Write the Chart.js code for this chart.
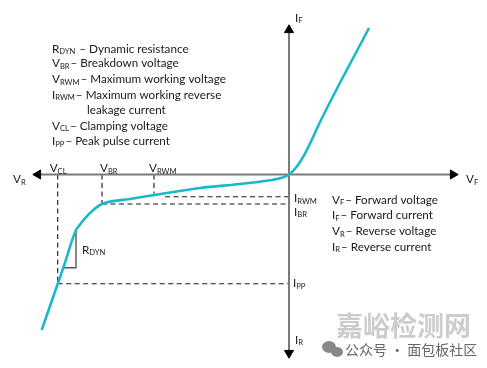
<!DOCTYPE html>
<html><head><meta charset="utf-8">
<script src="https://cdn.jsdelivr.net/npm/chart.js@4"></script>
<style>html,body{margin:0;padding:0;background:#fff}#wrap{width:487px;height:368px;position:relative}</style>
</head><body><div id="wrap"><canvas id="c"></canvas></div>
<script>
// TVS diode I-V characteristic, arbitrary units (origin = axis crossing)
const curveV = [-24.73, -22.57, -21.3, -21.07, -20.4, -19.57, -18.7, -15.9, -13.5, -8.9, -4.9, -2.4, -0.9, 0, 0.77, 1.43, 2.27, 3.2, 8.0];
const curveI = [-15.55, -9.32, -5.55, -5.22, -4.38, -3.55, -2.95, -2.45, -2.05, -1.35, -0.95, -0.65, -0.38, 0, 0.78, 1.78, 3.45, 5.45, 14.65];
// characteristic points
const V_CL = -23.13, V_BR = -18.7, V_RWM = -13.5;
const I_PP = -10.92, I_BR = -2.95, I_RWM = -2.22;
const I_RWM_START = -12.4, V_RWM_END = -1.9;
// dynamic resistance triangle
const rdynV = [-21.3, -21.3, -22.57];
const rdynI = [-5.55, -9.32, -9.32];
// axis extents
const axisV = [-25.1, 16.4];
const axisI = [14.45, -17.85];
// axis range
const X_MIN = -28.9, X_MAX = 19.8, Y_MIN = -19.35, Y_MAX = 17.45;

const leftNotes = [["R","DYN"," – Dynamic resistance"],["V","BR","– Breakdown voltage"],["V","RWM","– Maximum working voltage"],["I","RWM","– Maximum working reverse"],["","","leakage current"],["V","CL","– Clamping voltage"],["I","PP","– Peak pulse current"]];
const rightNotes = [["V","F","– Forward voltage"],["I","F","– Forward current"],["V","R","– Reverse voltage"],["I","R","– Reverse current"]];

const pts = (xs, ys) => xs.map((x, i) => ({x, y: ys[i]}));
const TEAL = '#1bb8c9';
const dash = (data) => ({data, showLine: true, borderColor: '#1a1a1a', borderWidth: 1.1, borderDash: [5, 3.5], pointRadius: 0, clip: false});

const datasets = [
  {data: pts(curveV, curveI), showLine: true, borderColor: TEAL, borderWidth: 2.6, pointRadius: 0, cubicInterpolationMode: 'monotone', clip: false},
  {data: [{x: axisV[0], y: 0}, {x: axisV[1], y: 0}], showLine: true, borderColor: '#7a7a7a', borderWidth: 2, pointStyle: 'triangle', pointRadius: 5.2, pointRotation: [-90, 90], pointBackgroundColor: '#000', pointBorderColor: '#000', pointBorderWidth: 1, clip: false},
  {data: [{x: 0, y: axisI[0]}, {x: 0, y: axisI[1]}], showLine: true, borderColor: '#7a7a7a', borderWidth: 2, pointStyle: 'triangle', pointRadius: 5.2, pointRotation: [0, 180], pointBackgroundColor: '#000', pointBorderColor: '#000', pointBorderWidth: 1, clip: false},
  dash([{x: V_CL, y: 0}, {x: V_CL, y: I_PP}]),
  dash([{x: V_CL, y: I_PP}, {x: 0, y: I_PP}]),
  dash([{x: V_BR, y: 0}, {x: V_BR, y: I_BR}]),
  dash([{x: V_BR, y: I_BR}, {x: 0, y: I_BR}]),
  dash([{x: V_RWM, y: 0}, {x: V_RWM, y: V_RWM_END}]),
  dash([{x: I_RWM_START, y: I_RWM}, {x: 0, y: I_RWM}]),
  {data: pts(rdynV, rdynI), showLine: true, borderColor: '#555', borderWidth: 1.4, pointRadius: 0, clip: false}
];

const FONT = 'Lato, "Open Sans", sans-serif';
const MAIN = 11.7, SUB = 7.6;
function sub(ctx, x, y, a, s, rest) {
  ctx.font = MAIN + 'px ' + FONT;
  ctx.fillText(a, x, y);
  x += ctx.measureText(a).width;
  if (s) {
    ctx.font = SUB + 'px ' + FONT;
    ctx.fillText(s, x, y + 3);
    x += ctx.measureText(s).width + 1;
  }
  if (rest) {
    ctx.font = MAIN + 'px ' + FONT;
    ctx.fillText(rest, x, y);
  }
}

const labels = {
  id: 'labels',
  afterDraw(chart) {
    const ctx = chart.ctx, sx = chart.scales.x, sy = chart.scales.y;
    const X = v => sx.getPixelForValue(v), Y = v => sy.getPixelForValue(v);
    ctx.save();
    ctx.fillStyle = '#1a1a1a';
    ctx.textBaseline = 'middle';
    ctx.textAlign = 'left';
    const ys = [49, 63.5, 79.5, 95, 110.5, 126, 141.5];
    leftNotes.forEach((n, i) => sub(ctx, n[0] ? 52 : 87, ys[i], n[0], n[1], n[2]));
    rightNotes.forEach((n, i) => sub(ctx, 332, 200 + i * 15.6, n[0], n[1], n[2]));
    // axis labels
    sub(ctx, 13, Y(0) + 5, 'V', 'R', '');
    sub(ctx, 466, Y(0) + 5, 'V', 'F', '');
    sub(ctx, X(0) + 6, 18, 'I', 'F', '');
    sub(ctx, X(0) + 6, 340, 'I', 'R', '');
    // voltage markers
    sub(ctx, X(V_CL) - 8, Y(0) - 6, 'V', 'CL', '');
    sub(ctx, X(V_BR) - 2, Y(0) - 6, 'V', 'BR', '');
    sub(ctx, X(V_RWM) - 5, Y(0) - 6, 'V', 'RWM', '');
    // current markers
    sub(ctx, X(0) + 5, Y(I_RWM) + 2, 'I', 'RWM', '');
    sub(ctx, X(0) + 5, Y(I_BR) + 8, 'I', 'BR', '');
    sub(ctx, X(0) + 4, Y(I_PP), 'I', 'PP', '');
    sub(ctx, X(rdynV[0]) + 6, 250, 'R', 'DYN', '');
    // watermark
    ctx.fillStyle = 'rgba(195,195,195,0.85)';
    ctx.font = 'bold 27px "Noto Sans CJK SC"';
    ctx.fillText('嘉峪检测网', 336, 326);
    ctx.fillStyle = '#666';
    ctx.font = '14px "Noto Sans CJK SC"';
    ctx.fillText('公众号 · 面包板社区', 345, 350);
    ctx.fillStyle = '#888';
    ctx.beginPath(); ctx.ellipse(329, 347, 7, 6, 0, 0, Math.PI * 2); ctx.fill();
    ctx.beginPath(); ctx.ellipse(337, 352, 6, 5, 0, 0, Math.PI * 2); ctx.fill();
    ctx.restore();
  }
};

new Chart(document.getElementById('c'), {
  type: 'scatter',
  data: {datasets},
  options: {
    responsive: true, maintainAspectRatio: false, animation: false, events: [],
    layout: {padding: 0, autoPadding: false},
    plugins: {legend: {display: false}, tooltip: {enabled: false}},
    scales: {
      x: {type: 'linear', min: X_MIN, max: X_MAX, display: false},
      y: {type: 'linear', min: Y_MIN, max: Y_MAX, display: false}
    }
  },
  plugins: [labels]
});
</script></body></html>
